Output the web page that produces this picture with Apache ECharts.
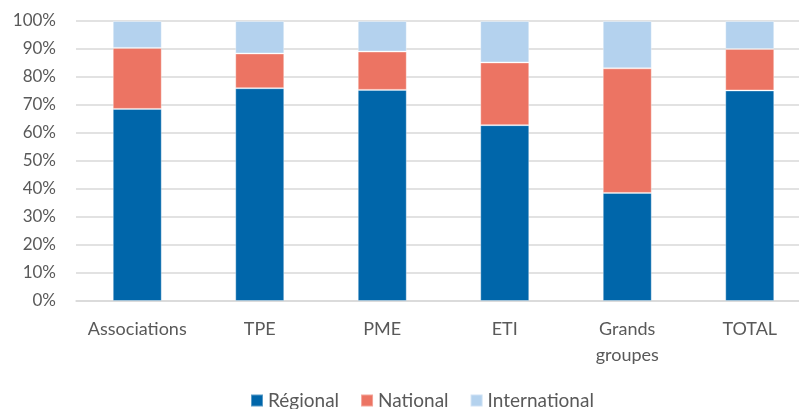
<!DOCTYPE html>
<html>
<head>
<meta charset="utf-8">
<script src="https://cdn.jsdelivr.net/npm/echarts@6/dist/echarts.min.js"></script>
<style>
  html, body { margin: 0; padding: 0; background: #fff; overflow: hidden; }
  /* la zone de tracé dépasse un peu à droite de la fenêtre */
  #box { width: 811px; height: 409px; }
</style>
</head>
<body>
<div id="box"></div>
<script>
// catégories et parts (%)
var categories = ["Associations", "TPE", "PME", "ETI", "Grands\ngroupes", "TOTAL"];
var regional = [68.6, 76.0, 75.4, 62.8, 38.6, 75.2];
var national = [21.8, 12.4, 13.7, 22.4, 44.5, 14.8];
var international = [9.6, 11.6, 10.9, 14.8, 16.9, 10.0];
var yTicks = [0, 10, 20, 30, 40, 50, 60, 70, 80, 90, 100];

var colors = ["#0066AA", "#EC7463", "#B4D2EE"];
var font = "Lato, 'Open Sans', sans-serif";

var myChart = echarts.init(document.getElementById("box"));

function serie(name, data) {
  return {
    name: name,
    type: "bar",
    stack: "total",
    data: data,
    barWidth: 49,
    itemStyle: { borderColor: "rgba(255,255,255,0.35)", borderWidth: 1 },
  };
}

var option = {
  backgroundColor: "#fff",
  color: colors,
  animation: false,
  grid: {
    left: 76,
    right: 0,
    top: 21,
    bottom: 108,
  },
  legend: {
    top: 386,
    left: 245,
    itemWidth: 12,
    itemHeight: 12,
    itemGap: 21,
    icon: "rect",
    textStyle: { color: "#595959", fontSize: 19, fontFamily: font },
    data: ["Régional", "National", "International"],
  },
  xAxis: {
    type: "category",
    data: categories,
    axisTick: { show: false },
    axisLine: { lineStyle: { color: "#d9d9d9", width: 1.5 } },
    axisLabel: {
      interval: 0,
      color: "#595959",
      fontSize: 18,
      fontFamily: font,
      margin: 15,
      lineHeight: 26,
    },
  },
  yAxis: {
    type: "value",
    min: 0,
    max: yTicks[yTicks.length - 1],
    interval: 10,
    axisLine: { show: false },
    axisTick: { show: false },
    splitLine: { lineStyle: { color: "#d9d9d9", width: 1.5 } },
    axisLabel: {
      color: "#595959",
      fontSize: 17,
      fontFamily: font,
      margin: 20,
      formatter: "{value}%",
    },
  },
  series: [
    serie("Régional", regional),
    serie("National", national),
    serie("International", international),
  ],
};
myChart.setOption(option);
</script>
</body>
</html>
